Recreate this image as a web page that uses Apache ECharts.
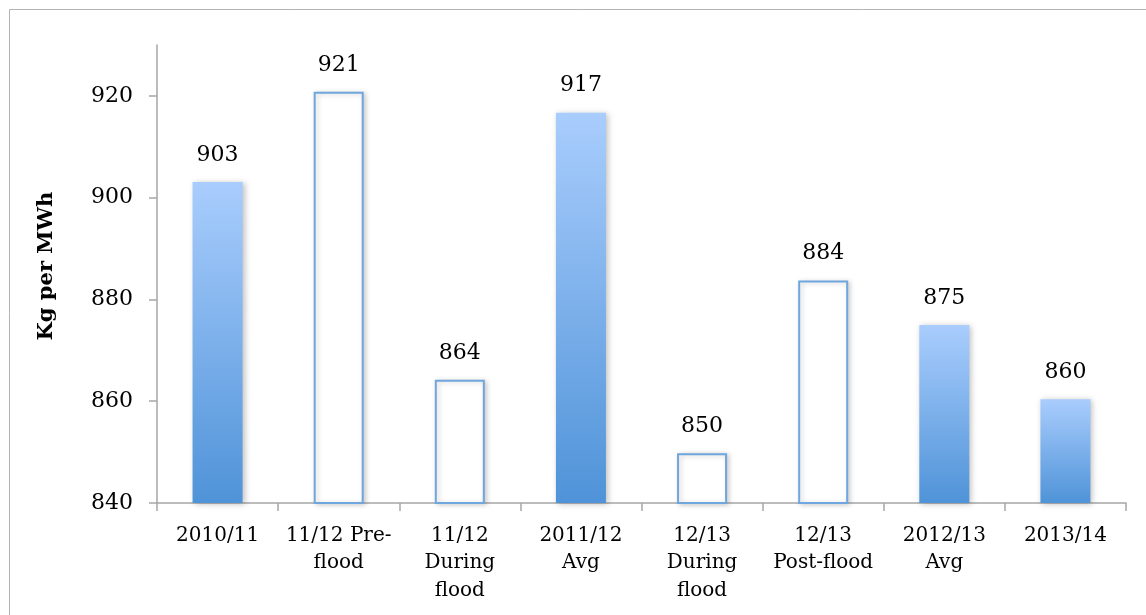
<!DOCTYPE html>
<html>
<head>
<meta charset="utf-8">
<script src="https://cdn.jsdelivr.net/npm/echarts@6/dist/echarts.min.js"></script>
<style>html,body{margin:0;padding:0;background:#fff;}#c{width:1146px;height:615px;}</style>
</head>
<body>
<div id="c"></div>
<script>
const categories = ['2010/11', '11/12 Pre-\nflood', '11/12\nDuring\nflood', '2011/12\nAvg', '12/13\nDuring\nflood', '12/13\nPost-flood', '2012/13\nAvg', '2013/14'];
const values = [903.1, 920.8, 864.2, 916.7, 849.8, 883.7, 875.0, 860.4];
const isPeriodSubset = [false, true, true, false, true, true, false, false];
const yTicks = [840, 860, 880, 900, 920];

const font = '"DejaVu Serif", "Liberation Serif", serif';
const filledStyle = {
  color: new echarts.graphic.LinearGradient(0, 0, 0, 1, [
    {offset: 0, color: '#a9cdfd'},
    {offset: 1, color: '#4f93d8'}
  ]),
  shadowColor: 'rgba(0,0,0,0.25)', shadowBlur: 6, shadowOffsetX: 2, shadowOffsetY: 1
};
const hollowStyle = {
  color: '#ffffff', borderColor: '#6fa6dd', borderWidth: 2,
  shadowColor: 'rgba(0,0,0,0.2)', shadowBlur: 5, shadowOffsetX: 2, shadowOffsetY: 1
};

const chart = echarts.init(document.getElementById('c'));
chart.setOption({
  animation: false,
  backgroundColor: '#fff',
  graphic: [{
    type: 'rect', shape: {x: 9.5, y: 9.5, width: 1300, height: 800},
    style: {fill: 'none', stroke: '#b3b3b3', lineWidth: 1}, z: -10
  }],
  grid: {left: 157, right: 20, top: 45, bottom: 112},
  xAxis: {
    type: 'category', data: categories,
    axisLine: {lineStyle: {color: '#a6a6a6', width: 1.5}},
    axisTick: {show: true, length: 8, alignWithLabel: false, lineStyle: {color: '#a6a6a6', width: 1.5}},
    axisLabel: {color: '#000', fontFamily: font, fontSize: 20, lineHeight: 27.5, margin: 19, interval: 0}
  },
  yAxis: {
    type: 'value', min: 840, max: 930, interval: 20,
    name: 'Kg per MWh', nameLocation: 'middle', nameGap: 100, nameRotate: 90,
    nameTextStyle: {color: '#000', fontFamily: font, fontSize: 21, fontWeight: 'bold', padding: [0, 0, 0, 16]},
    splitLine: {show: false},
    axisLine: {show: true, lineStyle: {color: '#a6a6a6', width: 1.5}},
    axisTick: {show: true, length: 8, customValues: yTicks, lineStyle: {color: '#a6a6a6', width: 1.5}},
    axisLabel: {color: '#000', fontFamily: font, fontSize: 22, margin: 24, customValues: yTicks}
  },
  series: [{
    type: 'bar', barWidth: 50,
    data: values.map((v, i) => ({value: v, itemStyle: isPeriodSubset[i] ? hollowStyle : filledStyle})),
    label: {
      show: true, position: 'top', distance: 16, color: '#000', fontFamily: font, fontSize: 22,
      formatter: p => Math.round(p.value)
    }
  }]
});
</script>
</body>
</html>
